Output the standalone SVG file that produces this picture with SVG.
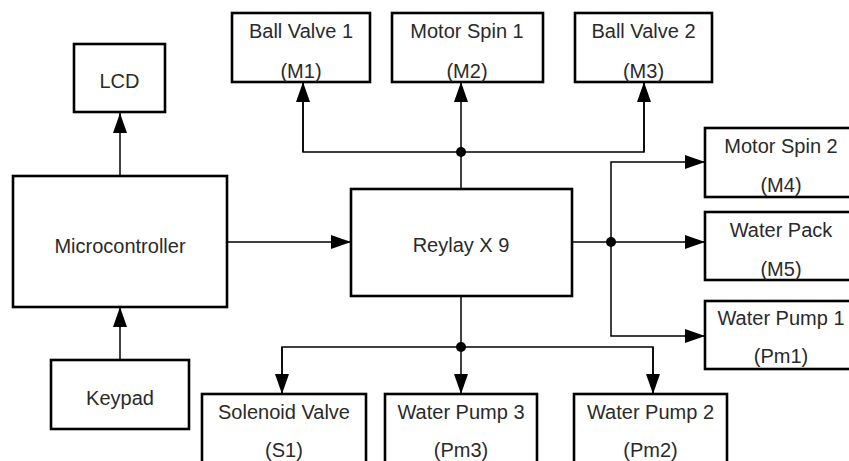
<svg xmlns="http://www.w3.org/2000/svg" width="849" height="461" viewBox="0 0 849 461">
<style>
.box{fill:#fff;stroke:#000;stroke-width:2.6}
.t{font-family:"Liberation Sans",Arial,sans-serif;font-size:20px;fill:#2a2a2a;text-anchor:middle}
.c{fill:none;stroke:#000;stroke-width:1.5}
.dot{fill:#000}
</style>
<defs>
<marker id="ah" viewBox="0 0 20 14" refX="20" refY="7" markerWidth="20" markerHeight="14" markerUnits="userSpaceOnUse" orient="auto">
<path d="M0,0 L20,7 L0,14 Z" fill="#000"/>
</marker>
</defs>
<rect width="849" height="461" fill="#fff"/>
<g id="connectors">
<path class="c" d="M120,176 V113" marker-end="url(#ah)"/>
<path class="c" d="M120,360 V307" marker-end="url(#ah)"/>
<path class="c" d="M227,242 H351" marker-end="url(#ah)"/>
<path class="c" d="M461,189 V152"/>
<path class="c" d="M303,82 V152 H644 V82"/>
<path class="c" d="M303,152 V82" marker-end="url(#ah)"/>
<path class="c" d="M461,152 V82" marker-end="url(#ah)"/>
<path class="c" d="M644,152 V82" marker-end="url(#ah)"/>
<path class="c" d="M572,242 H705" marker-end="url(#ah)"/>
<path class="c" d="M611,242 V162 H705" marker-end="url(#ah)"/>
<path class="c" d="M611,242 V336 H705" marker-end="url(#ah)"/>
<path class="c" d="M461,296 V347"/>
<path class="c" d="M282,394 V347 H653 V394"/>
<path class="c" d="M282,347 V394" marker-end="url(#ah)"/>
<path class="c" d="M461,347 V394" marker-end="url(#ah)"/>
<path class="c" d="M653,347 V394" marker-end="url(#ah)"/>
<circle class="dot" cx="461" cy="152" r="5"/>
<circle class="dot" cx="611" cy="242" r="5"/>
<circle class="dot" cx="461" cy="347" r="5"/>
</g>
<g id="lcd"><rect class="box" x="74" y="44" width="91" height="68"/><text class="t" x="119.5" y="88">LCD</text></g>
<g id="microcontroller"><rect class="box" x="13" y="176" width="214" height="131"/><text class="t" x="120" y="253">Microcontroller</text></g>
<g id="keypad"><rect class="box" x="51" y="360" width="138" height="69"/><text class="t" x="120" y="405">Keypad</text></g>
<g id="ballvalve1"><rect class="box" x="232" y="13" width="138" height="69"/><text class="t" x="301" y="38">Ball Valve 1</text><text class="t" x="301" y="78">(M1)</text></g>
<g id="motorspin1"><rect class="box" x="392" y="13" width="151" height="69"/><text class="t" x="467" y="38">Motor Spin 1</text><text class="t" x="467" y="78">(M2)</text></g>
<g id="ballvalve2"><rect class="box" x="575" y="13" width="137" height="69"/><text class="t" x="643.5" y="38">Ball Valve 2</text><text class="t" x="643.5" y="78">(M3)</text></g>
<g id="relay"><rect class="box" x="351" y="189" width="221" height="107"/><text class="t" x="461" y="252">Reylay X 9</text></g>
<g id="motorspin2"><rect class="box" x="705" y="128" width="155" height="69"/><text class="t" x="781" y="153">Motor Spin 2</text><text class="t" x="781" y="192">(M4)</text></g>
<g id="waterpack"><rect class="box" x="705" y="212" width="155" height="68"/><text class="t" x="781" y="237">Water Pack</text><text class="t" x="781" y="276">(M5)</text></g>
<g id="waterpump1"><rect class="box" x="705" y="301" width="155" height="68"/><text class="t" x="781" y="325">Water Pump 1</text><text class="t" x="781" y="363">(Pm1)</text></g>
<g id="solenoid"><rect class="box" x="202" y="394" width="164" height="80"/><text class="t" x="284" y="419">Solenoid Valve</text><text class="t" x="284" y="457">(S1)</text></g>
<g id="waterpump3"><rect class="box" x="385" y="394" width="152" height="80"/><text class="t" x="461" y="419">Water Pump 3</text><text class="t" x="461" y="457">(Pm3)</text></g>
<g id="waterpump2"><rect class="box" x="574" y="394" width="153" height="80"/><text class="t" x="650.5" y="419">Water Pump 2</text><text class="t" x="650.5" y="457">(Pm2)</text></g>
</svg>
